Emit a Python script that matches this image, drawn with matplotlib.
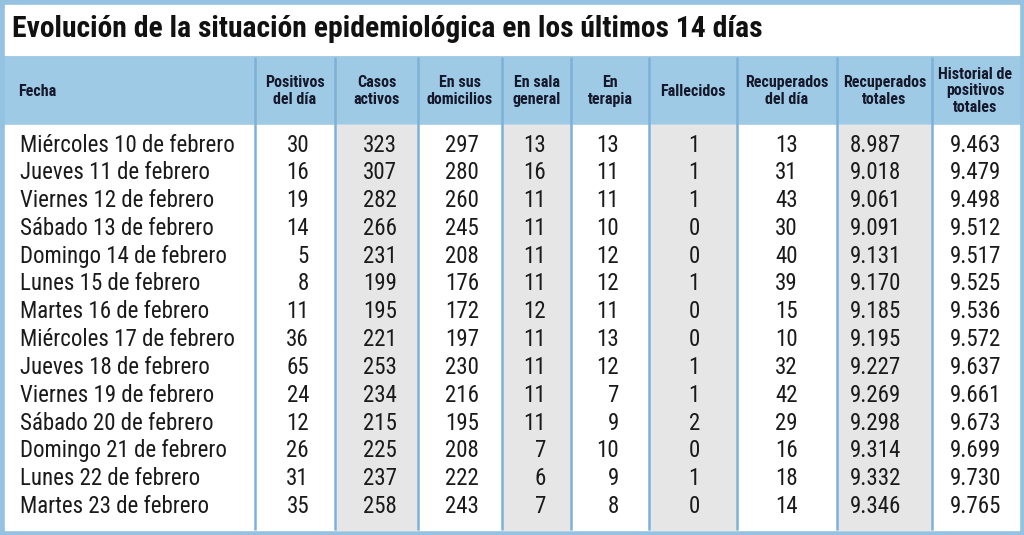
import matplotlib
matplotlib.use('Agg')
import matplotlib.pyplot as plt
from matplotlib.patches import Rectangle

plt.rcParams['font.family'] = ['Roboto Condensed', 'DejaVu Sans']

title = 'Evolución de la situación epidemiológica en los últimos 14 días'

headers = ['Fecha', 'Positivos\ndel día', 'Casos\nactivos', 'En sus\ndomicilios', 'En sala\ngeneral',
           'En\nterapia', 'Fallecidos', 'Recuperados\ndel día', 'Recuperados\ntotales',
           'Historial de\npositivos\ntotales']

fechas = ['Miércoles 10 de febrero', 'Jueves 11 de febrero', 'Viernes 12 de febrero',
          'Sábado 13 de febrero', 'Domingo 14 de febrero', 'Lunes 15 de febrero',
          'Martes 16 de febrero', 'Miércoles 17 de febrero', 'Jueves 18 de febrero',
          'Viernes 19 de febrero', 'Sábado 20 de febrero', 'Domingo 21 de febrero',
          'Lunes 22 de febrero', 'Martes 23 de febrero']
positivos = [30, 16, 19, 14, 5, 8, 11, 36, 65, 24, 12, 26, 31, 35]
activos = [323, 307, 282, 266, 231, 199, 195, 221, 253, 234, 215, 225, 237, 258]
domicilios = [297, 280, 260, 245, 208, 176, 172, 197, 230, 216, 195, 208, 222, 243]
sala = [13, 16, 11, 11, 11, 11, 12, 11, 11, 11, 11, 7, 6, 7]
terapia = [13, 11, 11, 10, 12, 12, 11, 13, 12, 7, 9, 10, 9, 8]
fallecidos = [1, 1, 1, 0, 0, 1, 0, 0, 1, 1, 2, 0, 1, 0]
recup_dia = [13, 31, 43, 30, 40, 39, 15, 10, 32, 42, 29, 16, 18, 14]
recup_tot = ['8.987', '9.018', '9.061', '9.091', '9.131', '9.170', '9.185', '9.195',
             '9.227', '9.269', '9.298', '9.314', '9.332', '9.346']
historial = ['9.463', '9.479', '9.498', '9.512', '9.517', '9.525', '9.536', '9.572',
             '9.637', '9.661', '9.673', '9.699', '9.730', '9.765']

columns = [fechas, positivos, activos, domicilios, sala, terapia, fallecidos,
           recup_dia, recup_tot, historial]

# layout in pixels
edges = [5, 255, 335, 418, 502, 571, 649, 737, 837, 932, 1019]
num_right = [None, 309, 397, 479, 546, 619, 700, 798, 901, 1001]
shaded = [2, 4, 6, 8]
frame_col = '#95c2e0'
head_col = '#9fcae6'
line_col = '#7db2d8'
gray = '#e6e6e6'
row0 = 145
row_h = 27.8

fig = plt.figure(figsize=(10.24, 5.35), dpi=100)
ax = fig.add_axes([0, 0, 1, 1])
ax.set_xlim(0, 1024)
ax.set_ylim(535, 0)
ax.axis('off')

ax.add_patch(Rectangle((0, 0), 1024, 535, color=frame_col, zorder=0))
ax.add_patch(Rectangle((5, 5), 1014, 50, color='white', zorder=1))
ax.add_patch(Rectangle((5, 57), 1014, 67, color=head_col, zorder=1))
ax.add_patch(Rectangle((5, 125), 1014, 405, color='white', zorder=1))
for c in shaded:
    ax.add_patch(Rectangle((edges[c], 125), edges[c + 1] - edges[c], 405, color=gray, zorder=2))
for x in edges[1:-1]:
    ax.plot([x, x], [57, 530], color=line_col, lw=1.8, zorder=3, solid_capstyle='butt')

ax.text(12, 29, title, fontsize=21.3, fontweight='bold', va='center', ha='left', color='#111111')

for i, h in enumerate(headers):
    if i == 0:
        ax.text(18, 91, h, fontsize=11.5, fontweight='bold', va='center', ha='left', color='#14182a')
    else:
        ax.text((edges[i] + edges[i + 1]) / 2, 91, h, fontsize=11.5, fontweight='bold',
                va='center', ha='center', color='#14182a', linespacing=1.1)

for j, col in enumerate(columns):
    for r, v in enumerate(col):
        y = row0 + r * row_h
        if j == 0:
            ax.text(20, y, v, fontsize=16.5, va='center', ha='left', color='#1a1a1a')
        else:
            ax.text(num_right[j], y, str(v), fontsize=16.5, va='center', ha='right', color='#1a1a1a')

fig.savefig('out.png', dpi=100)
